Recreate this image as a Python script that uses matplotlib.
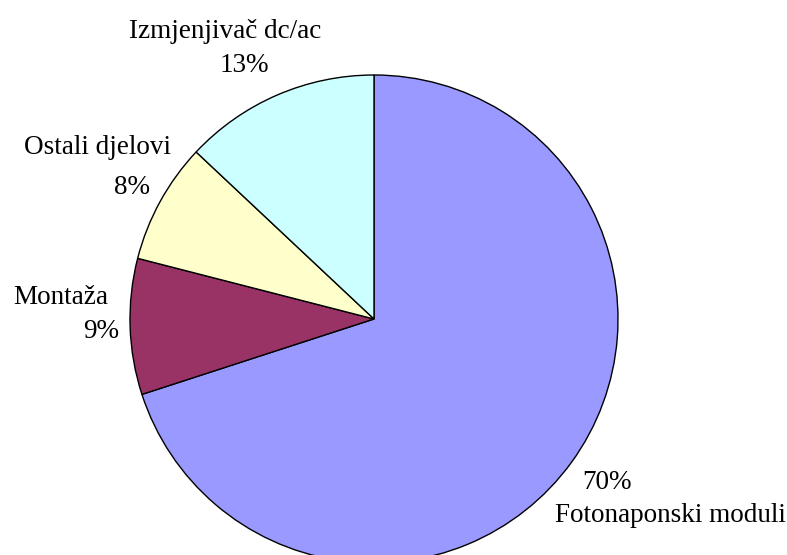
import matplotlib.pyplot as plt

names = ['Fotonaponski moduli', 'Montaža', 'Ostali djelovi', 'Izmjenjivač dc/ac']
shares = [70, 9, 8, 13]
colors = ['#9999FF', '#993366', '#FFFFCC', '#CCFFFF']

# pixel centre of pie and radius in the reference
cx, cy, r = 374, 319, 244
W, H = 787, 555

fig = plt.figure(figsize=(W/100, H/100), dpi=100)
ax = fig.add_axes([0, 0, 1, 1])
ax.pie(shares, colors=colors, startangle=90, counterclock=False,
       wedgeprops=dict(edgecolor='black', linewidth=1.0))
ax.set_xlim((0-cx)/r, (W-cx)/r)
ax.set_ylim((cy-H)/r, cy/r)
ax.set_aspect('equal')
ax.axis('off')

def px(x, y):
    return (x-cx)/r, (cy-y)/r

# label positions (pixels): name line and percent line
pos = {
    'Fotonaponski moduli': ((670, 515), (607, 483)),
    'Montaža': ((61, 298), (101, 332)),
    'Ostali djelovi': ((97, 147), (132, 188)),
    'Izmjenjivač dc/ac': ((225, 32), (244, 65)),
}
font = dict(family='Liberation Serif', fontsize=19.5, color='black')
for n, s in zip(names, shares):
    (nx, ny), (sx, sy) = pos[n]
    ax.text(*px(nx, ny), n, ha='center', va='center', **font)
    ax.text(*px(sx, sy), f'{s}%', ha='center', va='center', **font)

fig.savefig('out.png', dpi=100)
